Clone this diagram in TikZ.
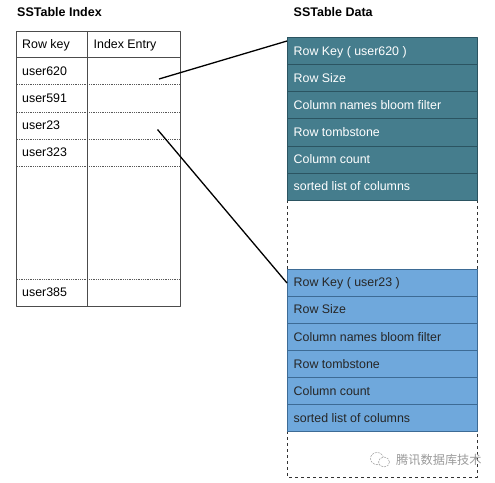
\documentclass[tikz,border=0pt]{standalone}
\usepackage{fontspec}
\setmainfont{Liberation Sans}
\newfontfamily\cjkfont{Noto Sans CJK SC}
\definecolor{tealrow}{HTML}{457D8D}
\definecolor{bluerow}{HTML}{6FA8DC}
\definecolor{tealedge}{HTML}{2B5461}
\definecolor{blueedge}{HTML}{3D6B95}
\definecolor{markgray}{HTML}{9A9A9A}
\tikzset{
  celltext/.style={font=\fontsize{12.4}{14}\selectfont, anchor=west, inner sep=0pt, text height=9pt, text depth=2.5pt, yshift=-1pt},
  titletext/.style={font=\fontsize{12.5}{14}\selectfont\bfseries, anchor=west, inner sep=0pt, text height=9pt, text depth=2.5pt, yshift=-1pt},
  datarow/.style={draw=#1edge, fill=#1row, line width=0.8pt, anchor=north west, minimum width=190pt, minimum height=27.1pt, inner sep=0pt, outer sep=0pt},
  linker/.style={line width=1.3pt, black},
  indexline/.style={line width=1.1pt, black!70},
  rowline/.style={line width=0.6pt, black!65, dash pattern=on 1pt off 0.8pt}
}
\begin{document}
\begin{tikzpicture}[x=1pt, y=-1pt, line join=round]
 \useasboundingbox (0,0) rectangle (495,482);
 \node[titletext] (indextitle) at (17,12.5) {SSTable Index};
 \node[titletext] (datatitle) at (293.5,12.5) {SSTable Data};
 % index table
 \foreach \y in {84.5,112.5,139.5,166.5,279.5}
 \draw[rowline] (17,\y)--(180,\y);
 \draw[indexline] (16.5,31.5) rectangle (180.5,306.5);
 \draw[indexline] (16.5,57.5)--(180.5,57.5);
 \draw[indexline] (87.5,31.5)--(87.5,306.5);
 \node[celltext] (rowkey) at (22,44.5) {Row key};
 \node[celltext] (indexentry) at (93.5,44.5) {Index Entry};
 \foreach \y/\t in {71/user620,98.5/user591,125.5/user23,152.5/user323,292.5/user385}
 \node[celltext] (key\t) at (22,\y) {\t};
 % dashed data blocks
 \draw[dashed, line width=0.7pt, black!80] (287,200)--(287,269) (477,200)--(477,269);
 \draw[dashed, line width=0.7pt, black!80] (287,431)--(287,477)--(477,477)--(477,431);
 % data rows
 \foreach \n/\t [count=\i from 0] in {a/Row Key ( user620 ),b/Row Size,c/Column names bloom filter,d/Row tombstone,e/Column count,f/sorted list of columns}{
 \node[datarow=teal] (teal\n) at (287,37.5+27.1*\i) {};
 \node[celltext, text=white] (teal\n text) at ([xshift=6.5pt]teal\n.west) {\t};
 }
 \foreach \n/\t [count=\i from 0] in {a/Row Key ( user23 ),b/Row Size,c/Column names bloom filter,d/Row tombstone,e/Column count,f/sorted list of columns}{
 \node[datarow=blue] (blue\n) at (287,269+27.1*\i) {};
 \node[celltext, text=black!85] (blue\n text) at ([xshift=6.5pt]blue\n.west) {\t};
 }
 % links
 \coordinate (entryfirst) at (159,79);
 \coordinate (entrythird) at (157.5,129.5);
 \draw[linker] (entryfirst)--([yshift=-3.5pt]teala.north west);
 \draw[linker] (entrythird)--([yshift=-14pt]bluea.north west);
 % watermark
 \draw[markgray, line width=0.5pt, dash pattern=on 2pt off 1pt, fill=white] (377,458.5) ellipse (6.5 and 6);
 \draw[markgray, line width=0.5pt, dash pattern=on 2pt off 1pt, fill=white] (384,462) ellipse (5.5 and 5);
 \node[inner sep=0pt, anchor=west, text=markgray, font=\cjkfont\fontsize{12.2}{14}\selectfont] (mark) at (396,459.5) {腾讯数据库技术};
\end{tikzpicture}
\end{document}
